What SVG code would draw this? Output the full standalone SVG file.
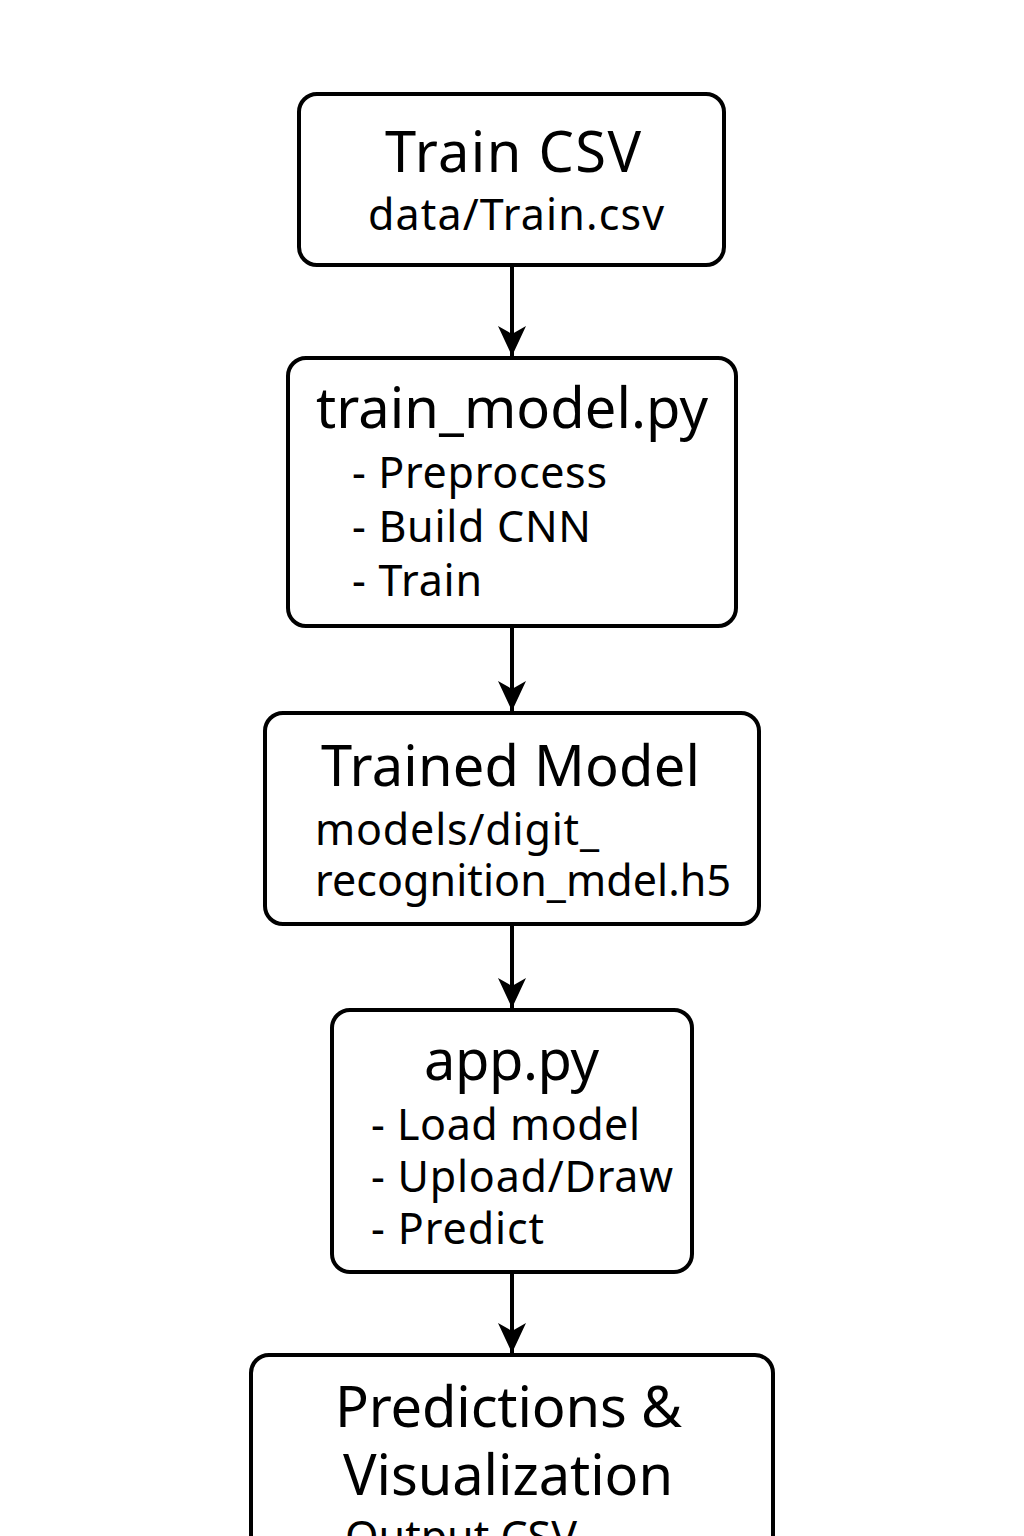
<svg xmlns="http://www.w3.org/2000/svg" width="1024" height="1536" viewBox="0 0 1024 1536">
<defs>
<style>
.box{fill:#fff;stroke:#000;stroke-width:4}
.t{font-family:"Noto Sans","DejaVu Sans",sans-serif;fill:#000}
.h{font-size:56px}
.s{font-size:43px}
.c{text-anchor:middle}
.ln{stroke:#000;stroke-width:4;fill:none}
</style>
<marker id="ah" markerUnits="userSpaceOnUse" markerWidth="34" markerHeight="30" viewBox="0 0 34 30" refX="32" refY="15" orient="auto">
<path d="M32 15 L2 1 L10 15 L2 29 Z" fill="#000"/>
</marker>
</defs>
<rect width="1024" height="1536" fill="#fff"/>
<g id="connectors">
<path class="ln" d="M512 265 V356" marker-end="url(#ah)"/>
<path class="ln" d="M512 626 V711" marker-end="url(#ah)"/>
<path class="ln" d="M512 924 V1008" marker-end="url(#ah)"/>
<path class="ln" d="M512 1272 V1353" marker-end="url(#ah)"/>
</g>
<g id="train-csv">
<rect class="box" x="299" y="94" width="425" height="171" rx="18"/>
<text class="t h" x="385" y="172" textLength="256">Train CSV</text>
<text class="t s" x="368" y="230" textLength="296">data/Train.csv</text>
</g>
<g id="train-model">
<rect class="box" x="288" y="358" width="448" height="268" rx="18"/>
<text class="t h" x="316" y="428" textLength="392">train_model.py</text>
<text class="t s" x="352" y="488" textLength="255">- Preprocess</text>
<text class="t s" x="352" y="542" textLength="239">- Build CNN</text>
<text class="t s" x="352" y="596" textLength="130">- Train</text>
</g>
<g id="trained-model">
<rect class="box" x="265" y="713" width="494" height="211" rx="18"/>
<text class="t h" x="321" y="786" textLength="379">Trained Model</text>
<text class="t s" x="315" y="845" textLength="284">models/digit_</text>
<text class="t s" x="315" y="896" textLength="416">recognition_mdel.h5</text>
</g>
<g id="app">
<rect class="box" x="332" y="1010" width="360" height="262" rx="18"/>
<text class="t h" x="424" y="1080" textLength="175">app.py</text>
<text class="t s" x="371" y="1140" textLength="269">- Load model</text>
<text class="t s" x="371" y="1192" textLength="302">- Upload/Draw</text>
<text class="t s" x="371" y="1244" textLength="173">- Predict</text>
</g>
<g id="predictions">
<rect class="box" x="251" y="1355" width="522" height="260" rx="18"/>
<text class="t h" x="335" y="1427" textLength="347">Predictions &amp;</text>
<text class="t h" x="343" y="1495" textLength="330">Visualization</text>
<text class="t s" x="345" y="1552">Output CSV</text>
</g>
</svg>
